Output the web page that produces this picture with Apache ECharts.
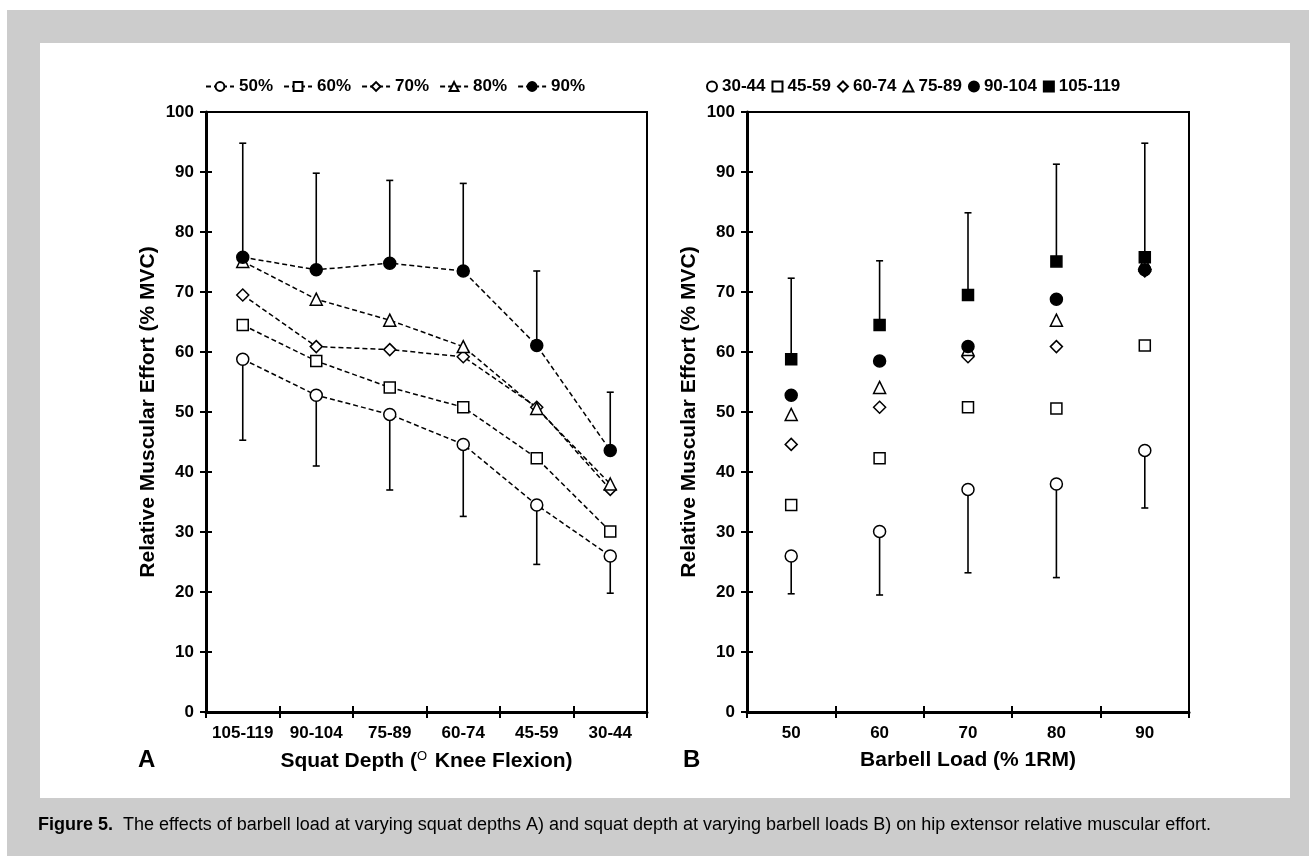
<!DOCTYPE html>
<html>
<head>
<meta charset="utf-8">
<script src="https://cdn.jsdelivr.net/npm/echarts@6/dist/echarts.min.js"></script>
<style>
html,body{margin:0;padding:0;background:#fff;}
#c{width:1309px;height:856px;}
</style>
</head>
<body>
<div id="c"></div>
<script>
// ---- Data ----
const depthCats = ['105-119', '90-104', '75-89', '60-74', '45-59', '30-44'];
const loadCats = ['50', '60', '70', '80', '90'];
const loadNames = ['50%', '60%', '70%', '80%', '90%'];
// Panel A: relative muscular effort by depth, one array per barbell load
const load50 = [58.8, 52.8, 49.6, 44.6, 34.5, 26.0];
const load60 = [64.5, 58.5, 54.1, 50.8, 42.3, 30.1];
const load70 = [69.5, 60.9, 60.4, 59.2, 50.8, 37.1];
const load80 = [75.1, 68.8, 65.3, 60.9, 50.6, 38.0];
const load90 = [75.8, 73.7, 74.8, 73.5, 61.1, 43.6];
// Panel A error bar ends
const upper90 = [94.8, 89.8, 88.6, 88.1, 73.5, 53.3];
const lower50 = [45.3, 41.0, 37.0, 32.6, 24.6, 19.8];
// Panel B error bar ends (by load)
const upper105 = [72.3, 75.2, 83.2, 91.3, 94.8];
const lower3044 = [19.7, 19.5, 23.2, 22.4, 34.0];

const loadSeries = [load50, load60, load70, load80, load90];
const FONT = "'Liberation Sans', Arial, sans-serif";

const chart = echarts.init(document.getElementById('c'), null, {renderer: 'canvas'});

const symA = [
  {symbol: 'circle', size: 12, fill: '#fff'},
  {symbol: 'rect', size: 11, fill: '#fff'},
  {symbol: 'diamond', size: 12, fill: '#fff'},
  {symbol: 'triangle', size: 12, fill: '#fff'},
  {symbol: 'circle', size: 12, fill: '#000'}
];
const symB = [
  {symbol: 'circle', size: 12, fill: '#fff'},
  {symbol: 'rect', size: 11, fill: '#fff'},
  {symbol: 'diamond', size: 12, fill: '#fff'},
  {symbol: 'triangle', size: 12, fill: '#fff'},
  {symbol: 'circle', size: 12, fill: '#000'},
  {symbol: 'rect', size: 11, fill: '#000'}
];

function errRender(params, api) {
  const x = api.value(0);
  const p0 = api.coord([x, api.value(1)]);
  const p1 = api.coord([x, api.value(2)]);
  const st = {stroke: '#000', lineWidth: 1.6};
  return {type: 'group', children: [
    {type: 'line', shape: {x1: p0[0], y1: p0[1], x2: p1[0], y2: p1[1]}, style: st},
    {type: 'line', shape: {x1: p1[0] - 3.5, y1: p1[1], x2: p1[0] + 3.5, y2: p1[1]}, style: st}
  ]};
}

const series = [];
// Panel A lines
loadNames.forEach((n, i) => {
  series.push({
    name: n, type: 'line', xAxisIndex: 0, yAxisIndex: 0,
    data: loadSeries[i],
    symbol: symA[i].symbol, symbolSize: symA[i].size,
    itemStyle: {color: symA[i].fill, borderColor: '#000', borderWidth: 1.5},
    lineStyle: {color: '#000', width: 1.5, type: [5, 3]},
    z: 3
  });
});
series.push({
  type: 'custom', xAxisIndex: 0, yAxisIndex: 0, renderItem: errRender, z: 2,
  encode: {x: 0, y: [1, 2]},
  data: depthCats.map((c, j) => [j, load90[j], upper90[j]])
});
series.push({
  type: 'custom', xAxisIndex: 0, yAxisIndex: 0, renderItem: errRender, z: 2,
  encode: {x: 0, y: [1, 2]},
  data: depthCats.map((c, j) => [j, load50[j], lower50[j]])
});
// Panel B scatter: one series per depth, values taken from the same arrays
const depthLegend = depthCats.slice().reverse();
depthLegend.forEach((d, k) => {
  const di = depthCats.indexOf(d);
  series.push({
    name: d, type: 'scatter', xAxisIndex: 2, yAxisIndex: 2,
    data: loadSeries.map(arr => arr[di]),
    symbol: symB[k].symbol, symbolSize: symB[k].size,
    itemStyle: {color: symB[k].fill, borderColor: '#000', borderWidth: 1.5, opacity: 1},
    z: 3
  });
});
series.push({
  type: 'custom', xAxisIndex: 2, yAxisIndex: 2, renderItem: errRender, z: 2,
  encode: {x: 0, y: [1, 2]},
  data: loadCats.map((c, j) => [j, loadSeries[j][0], upper105[j]])
});
series.push({
  type: 'custom', xAxisIndex: 2, yAxisIndex: 2, renderItem: errRender, z: 2,
  encode: {x: 0, y: [1, 2]},
  data: loadCats.map((c, j) => [j, loadSeries[j][5], lower3044[j]])
});

const labelStyle = {color: '#000', fontFamily: FONT, fontWeight: 'bold', fontSize: 17};
const nameStyleY = {color: '#000', fontFamily: FONT, fontWeight: 'bold', fontSize: 21};

function yAxes(gi) {
  return [
    {type: 'value', gridIndex: gi, position: 'left', min: 0, max: 100, interval: 10,
     axisLine: {show: true, lineStyle: {color: '#000', width: 3}},
     axisTick: {show: true, inside: false, length: 6, lineStyle: {color: '#000', width: 2}},
     axisLabel: Object.assign({margin: 12}, labelStyle),
     splitLine: {show: false},
     name: 'Relative Muscular Effort (% MVC)', nameLocation: 'middle', nameGap: 47,
     nameTextStyle: nameStyleY},
    {type: 'value', gridIndex: gi, position: 'left', min: 0, max: 100, interval: 10,
     axisLine: {show: false},
     axisTick: {show: true, inside: true, length: 6, lineStyle: {color: '#000', width: 2}},
     axisLabel: {show: false}, splitLine: {show: false}}
  ];
}
function xAxes(gi, cats, nameObj) {
  return [
    Object.assign({type: 'category', gridIndex: gi, position: 'bottom', data: cats, boundaryGap: true,
     axisLine: {show: true, lineStyle: {color: '#000', width: 3}},
     axisTick: {show: true, inside: false, length: 6, lineStyle: {color: '#000', width: 2}},
     axisLabel: Object.assign({margin: 13, interval: 0}, labelStyle),
     splitLine: {show: false}, nameLocation: 'middle', nameGap: 38}, nameObj),
    {type: 'category', gridIndex: gi, position: 'bottom', data: cats, boundaryGap: true,
     axisLine: {show: false},
     axisTick: {show: true, inside: true, length: 6, lineStyle: {color: '#000', width: 2}},
     axisLabel: {show: false}, splitLine: {show: false}}
  ];
}

const option = {
  animation: false,
  backgroundColor: '#fff',
  textStyle: {fontFamily: FONT},
  graphic: [
    {type: 'rect', shape: {x: 7, y: 10, width: 1302, height: 846}, style: {fill: '#cccccc'}, z: -10},
    {type: 'rect', shape: {x: 40, y: 43, width: 1250, height: 755}, style: {fill: '#ffffff'}, z: -9},
    {type: 'text', left: 138, top: 748, style: {text: 'A', font: "bold 24px 'Liberation Sans', Arial", fill: '#000'}},
    {type: 'text', left: 683, top: 748, style: {text: 'B', font: "bold 24px 'Liberation Sans', Arial", fill: '#000'}},
    {type: 'text', left: 38, top: 816, style: {
      text: '{b|Figure 5.}  The effects of barbell load at varying squat depths A) and squat depth at varying barbell loads B) on hip extensor relative muscular effort.',
      font: "18px 'Liberation Sans', Arial", fill: '#000',
      rich: {b: {font: "bold 18px 'Liberation Sans', Arial", fill: '#000'}}
    }}
  ],
  legend: [
    {data: loadNames, left: 200, top: 73, itemWidth: 28, itemHeight: 11, itemGap: 10,
     textStyle: {color: '#000', fontFamily: FONT, fontWeight: 'bold', fontSize: 17}},
    {data: depthLegend, left: 701, top: 73, itemWidth: 10, itemHeight: 10, itemGap: 6,
     textStyle: {color: '#000', fontFamily: FONT, fontWeight: 'bold', fontSize: 17}}
  ],
  grid: [
    {left: 206, top: 112, width: 441, height: 600, show: true, borderColor: '#000', borderWidth: 2, backgroundColor: 'transparent'},
    {left: 747, top: 112, width: 442, height: 600, show: true, borderColor: '#000', borderWidth: 2, backgroundColor: 'transparent'}
  ],
  xAxis: [].concat(
    xAxes(0, depthCats, {
      name: '{n|Squat Depth (}{s|O}{n| Knee Flexion)}',
      nameTextStyle: {rich: {
        n: {color: '#000', fontFamily: FONT, fontWeight: 'bold', fontSize: 21},
        s: {color: '#000', fontFamily: FONT, fontSize: 13, padding: [0, 2, 10, 0]}
      }}
    }),
    xAxes(1, loadCats, {name: 'Barbell Load (% 1RM)', nameTextStyle: {color: '#000', fontFamily: FONT, fontWeight: 'bold', fontSize: 21}})
  ),
  yAxis: [].concat(yAxes(0), yAxes(1)),
  series: series
};
chart.setOption(option);
</script>
</body>
</html>
